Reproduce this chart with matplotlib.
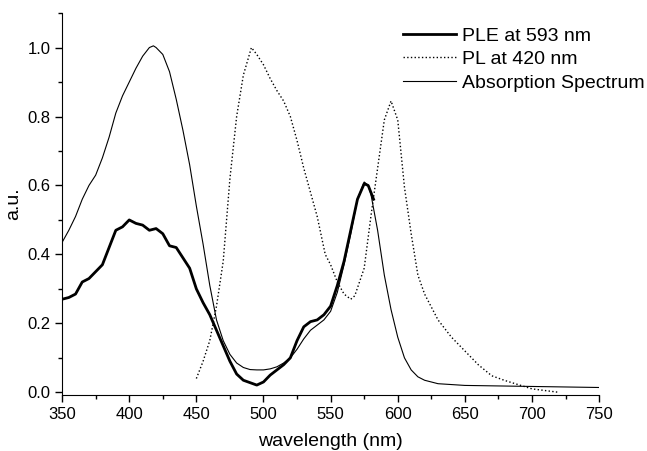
import matplotlib.pyplot as plt
from matplotlib.ticker import MultipleLocator

plt.rcParams['font.family'] = ['Liberation Sans', 'DejaVu Sans']

# absorption spectrum
abs_wl = [350, 355, 360, 365, 370, 375, 380, 385, 390, 395, 400, 405, 410, 415, 418,
          420, 425, 430, 435, 440, 445, 450, 455, 460, 465, 470, 475, 480, 485, 490,
          495, 500, 505, 510, 515, 520, 525, 530, 535, 540, 545, 550, 555, 560, 565,
          570, 575, 578, 580, 585, 590, 595, 600, 605, 610, 615, 620, 630, 650, 700, 750]
abs_val = [0.435, 0.47, 0.51, 0.56, 0.60, 0.63, 0.68, 0.74, 0.81, 0.86, 0.90, 0.94, 0.975,
           1.0, 1.005, 1.0, 0.98, 0.93, 0.85, 0.76, 0.66, 0.54, 0.43, 0.31, 0.21, 0.15,
           0.11, 0.085, 0.072, 0.066, 0.065, 0.065, 0.068, 0.074, 0.085, 0.10, 0.125,
           0.155, 0.18, 0.195, 0.21, 0.235, 0.29, 0.37, 0.46, 0.56, 0.61, 0.60, 0.575,
           0.47, 0.34, 0.24, 0.16, 0.10, 0.065, 0.045, 0.035, 0.025, 0.02, 0.017, 0.014]

# PLE monitored at 593 nm
ple_wl = [350, 355, 360, 365, 370, 375, 380, 385, 390, 395, 400, 405, 410, 415, 420,
          425, 430, 435, 440, 445, 450, 455, 460, 465, 470, 475, 480, 485, 490, 495,
          500, 505, 510, 515, 520, 525, 530, 535, 540, 545, 550, 555, 560, 565, 570,
          575, 578, 582]
ple_val = [0.27, 0.275, 0.285, 0.32, 0.33, 0.35, 0.37, 0.42, 0.47, 0.48, 0.50, 0.49,
           0.485, 0.47, 0.475, 0.46, 0.425, 0.42, 0.39, 0.36, 0.30, 0.26, 0.225, 0.18,
           0.135, 0.09, 0.053, 0.035, 0.028, 0.021, 0.03, 0.05, 0.065, 0.08, 0.10, 0.15,
           0.19, 0.205, 0.21, 0.225, 0.25, 0.31, 0.38, 0.47, 0.56, 0.605, 0.60, 0.56]

# PL excited at 420 nm
pl_wl = [450, 455, 460, 465, 470, 475, 480, 485, 491, 495, 500, 505, 510, 515, 520, 525,
         530, 535, 540, 546, 550, 555, 560, 565, 568, 575, 580, 585, 590, 595, 600, 605,
         610, 615, 620, 630, 640, 650, 660, 670, 680, 700, 720]
pl_val = [0.04, 0.09, 0.15, 0.25, 0.38, 0.62, 0.80, 0.92, 1.0, 0.98, 0.95, 0.91, 0.875,
          0.845, 0.80, 0.73, 0.65, 0.58, 0.51, 0.40, 0.37, 0.32, 0.285, 0.27, 0.28, 0.36,
          0.51, 0.65, 0.79, 0.845, 0.79, 0.595, 0.46, 0.34, 0.285, 0.21, 0.16, 0.12, 0.08,
          0.048, 0.034, 0.01, 0.0]

fig = plt.figure(figsize=(6.47, 4.51), dpi=100)
ax = fig.add_axes([0.096, 0.124, 0.83, 0.847])

ax.plot(ple_wl, ple_val, color='black', lw=2.0, label='PLE at 593 nm')
ax.plot(pl_wl, pl_val, color='black', lw=1.0, linestyle=':', label='PL at 420 nm')
ax.plot(abs_wl, abs_val, color='black', lw=0.8, label='Absorption Spectrum')

ax.set_xlim(350, 750)
ax.set_ylim(-0.008, 1.1)
ax.xaxis.set_major_locator(MultipleLocator(50))
ax.xaxis.set_minor_locator(MultipleLocator(25))
ax.yaxis.set_minor_locator(MultipleLocator(0.1))
ax.set_yticks([0.0, 0.2, 0.4, 0.6, 0.8, 1.0])
ax.set_yticklabels(['0.0', '0.2', '0.4', '0.6', '0.8', '1.0'])
ax.tick_params(which='both', direction='out', labelsize=12)
ax.tick_params(which='major', length=5, width=1)
ax.tick_params(which='minor', length=3, width=1)
ax.spines['top'].set_visible(False)
ax.spines['right'].set_visible(False)

ax.set_xlabel('wavelength (nm)', fontsize=14, labelpad=8)
ax.set_ylabel('a.u.', fontsize=14)

ax.legend(loc='upper left', frameon=False, fontsize=14, handlelength=2.7,
          handletextpad=0.35, labelspacing=0.3, borderpad=0, borderaxespad=0,
          bbox_to_anchor=(0.623, 0.94), bbox_transform=fig.transFigure)

fig.savefig('out.png', dpi=100)
